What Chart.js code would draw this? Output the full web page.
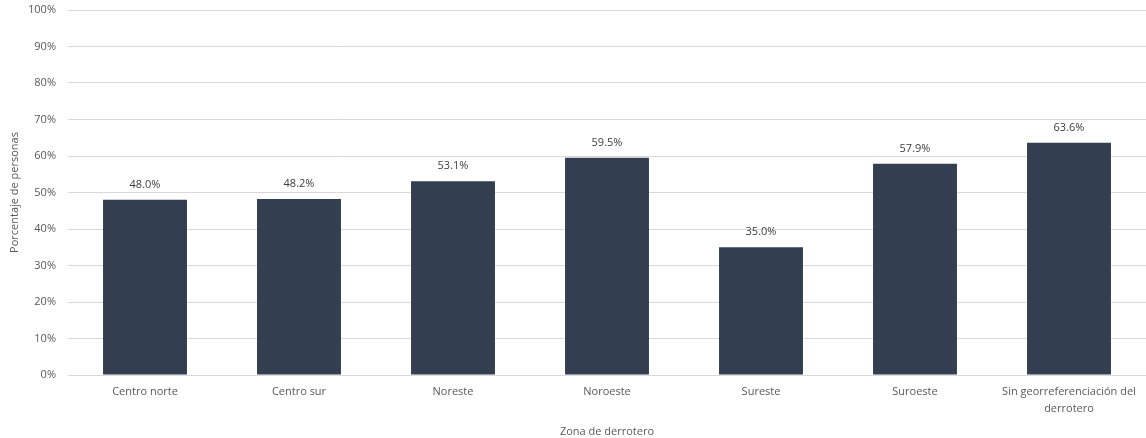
<!DOCTYPE html>
<html>
<head>
<meta charset="utf-8">
<script src="https://cdn.jsdelivr.net/npm/chart.js@4/dist/chart.umd.min.js"></script>
<style>
  html, body { margin: 0; padding: 0; background: #fff; }
  #chart { display: block; }
</style>
</head>
<body>
<canvas id="chart" width="1146" height="438"></canvas>
<script>
        const zonas = ['Centro norte', 'Centro sur', 'Noreste', 'Noroeste', 'Sureste', 'Suroeste', ['Sin georreferenciación del', 'derrotero']];
        const porcentajes = [48.0, 48.2, 53.1, 59.5, 35.0, 57.9, 63.6];
        const yTicks = [0, 10, 20, 30, 40, 50, 60, 70, 80, 90, 100];

        const fuente = "'Open Sans', 'Liberation Sans', sans-serif";
        const gris = '#595959';

        // etiquetas encima de cada barra
        const etiquetasBarras = {
            id: 'etiquetasBarras',
            afterDatasetsDraw(chart) {
                const ctx = chart.ctx;
                const meta = chart.getDatasetMeta(0);
                ctx.save();
                ctx.font = '11px ' + fuente;
                ctx.fillStyle = '#404040';
                ctx.textAlign = 'center';
                ctx.textBaseline = 'middle';
                meta.data.forEach((bar, i) => {
                    ctx.fillText(porcentajes[i].toFixed(1) + '%', bar.x, bar.y - 15);
                });
                ctx.restore();
            }
        };

        new Chart(document.getElementById('chart'), {
            type: 'bar',
            data: {
                labels: zonas,
                datasets: [{ data: porcentajes, backgroundColor: '#333F50', barPercentage: 0.545, categoryPercentage: 1 }]
            },
            options: {
                responsive: false, animation: false,
                layout: { padding: { top: 10, right: 0, left: 8, bottom: 0 } },
                plugins: { legend: { display: false }, tooltip: { enabled: false } },
                scales: {
                    x: {
                        grid: { display: false },
                        border: { color: '#d9d9d9' },
                        ticks: { color: gris, font: { family: fuente, size: 11, lineHeight: 1.55 }, padding: 0, maxRotation: 0, autoSkip: false },
                        title: { display: true, text: 'Zona de derrotero', color: gris, font: { family: fuente, size: 11 }, padding: { top: 1, bottom: 0 } },
                        afterFit: s => { s.height = 63; s.paddingLeft = 0; s.paddingRight = 0; }
                    },
                    y: {
                        min: 0, max: 100,
                        afterBuildTicks: s => { s.ticks = yTicks.map(v => ({ value: v })); },
                        grid: { color: '#d9d9d9', drawTicks: false },
                        border: { display: false },
                        ticks: { color: gris, font: { family: fuente, size: 11 }, padding: 12, callback: v => v + '%' },
                        title: { display: true, text: 'Porcentaje de personas', color: gris, font: { family: fuente, size: 11 }, padding: { top: 0, bottom: 0 } },
                        afterFit: s => { s.width = 60; s.paddingTop = 0; s.paddingBottom = 0; }
                    }
                }
            },
            plugins: [etiquetasBarras]
        });
</script>
</body>
</html>
